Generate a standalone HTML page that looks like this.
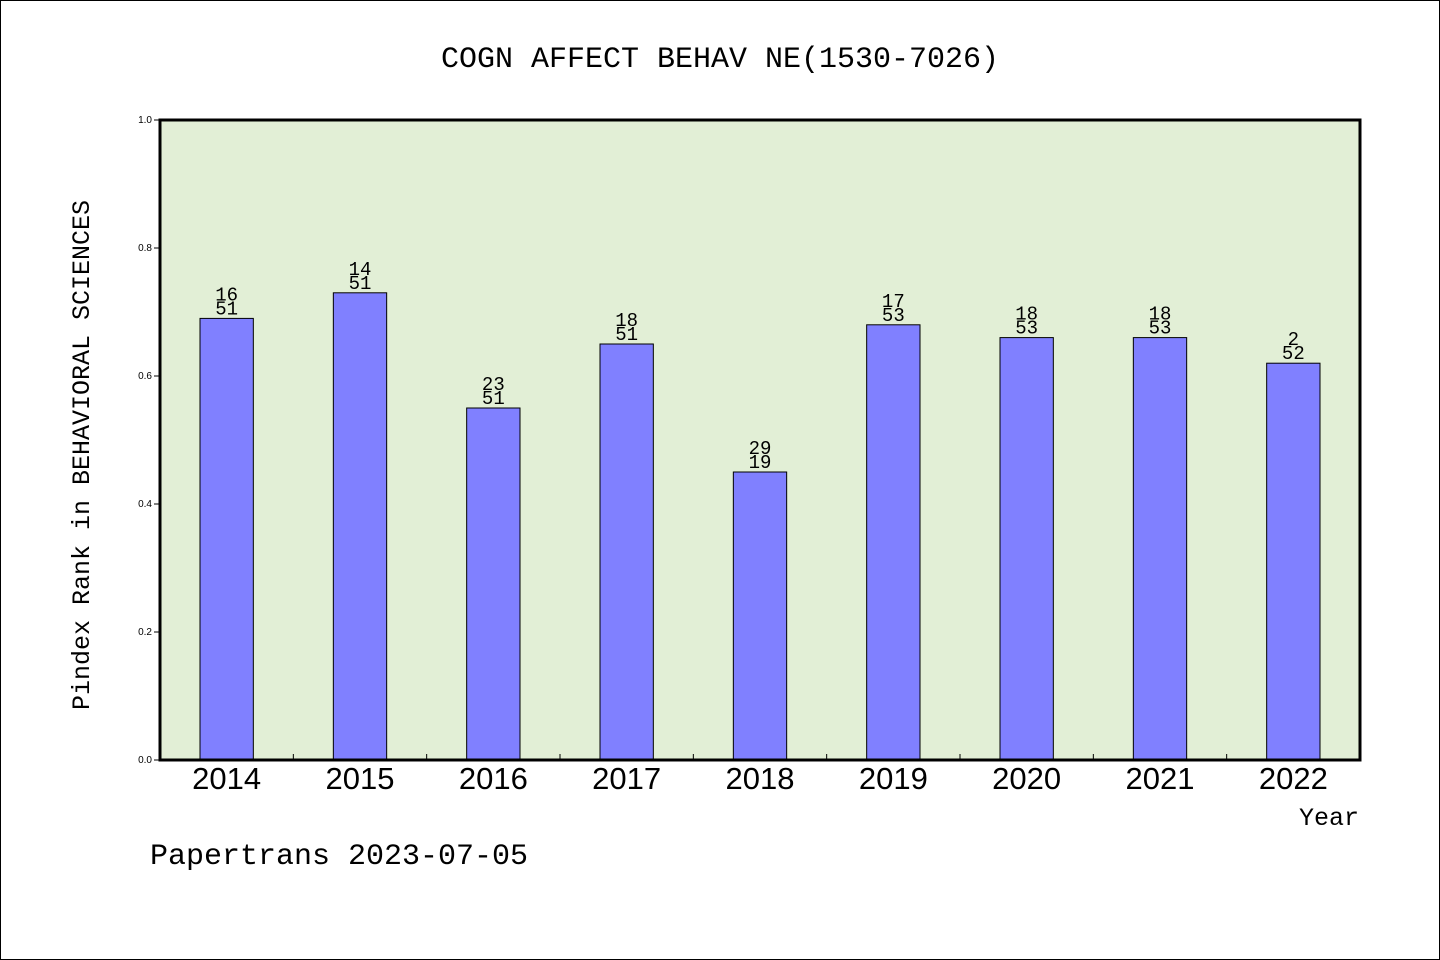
<!DOCTYPE html>
<html><head><meta charset="utf-8"><style>
html,body{margin:0;padding:0;background:#fff}
svg{display:block}
</style></head><body>
<svg id="chart" width="1440" height="960" xmlns="http://www.w3.org/2000/svg">
<rect x="0.5" y="0.5" width="1439" height="959" fill="#fff" stroke="#000" stroke-width="1"/>
<text x="720" y="67" text-anchor="middle" font-family="'WenQuanYi Zen Hei Mono','WenQuanYi Zen Hei','Liberation Mono',monospace" font-size="30">COGN AFFECT BEHAV NE(1530-7026)</text>
<rect x="160" y="120" width="1200" height="640" fill="#e2efd6"/>
<g id="bars"></g>
<rect x="160" y="120" width="1200" height="640" fill="none" stroke="#000" stroke-width="3"/>
<g id="axes"></g>
<text transform="translate(89,455) rotate(-90)" text-anchor="middle" font-family="'WenQuanYi Zen Hei Mono','WenQuanYi Zen Hei','Liberation Mono',monospace" font-size="25">Pindex Rank in BEHAVIORAL SCIENCES</text>
<text x="1359" y="825" text-anchor="end" font-family="'WenQuanYi Zen Hei Mono','WenQuanYi Zen Hei','Liberation Mono',monospace" font-size="25">Year</text>
<text x="150" y="864" font-family="'WenQuanYi Zen Hei Mono','WenQuanYi Zen Hei','Liberation Mono',monospace" font-size="30">Papertrans 2023-07-05</text>
</svg>
<script>
const categories = ["2014","2015","2016","2017","2018","2019","2020","2021","2022"];
const values = [0.69,0.73,0.55,0.65,0.45,0.68,0.66,0.66,0.62];
const ranks = ["16","14","23","18","29","17","18","18","2"];
const totals = ["51","51","51","51","19","53","53","53","52"];
const yTicks = [0,0.2,0.4,0.6,0.8,1.0];
const yTickLabels = ["0.0","0.2","0.4","0.6","0.8","1.0"];

const NS="http://www.w3.org/2000/svg";
const X0=160,W=1200,Y0=760,H=640;
const band=W/categories.length;
function xc(i){return X0+band*(i+0.5);}
function y(v){return Y0-v*H;}
function mk(tag,attrs,parent){const e=document.createElementNS(NS,tag);for(const k in attrs)e.setAttribute(k,attrs[k]);parent.appendChild(e);return e;}
const bars=document.getElementById('bars'), axes=document.getElementById('axes');
const mono="'WenQuanYi Zen Hei Mono','WenQuanYi Zen Hei','Liberation Mono',monospace";
values.forEach((v,i)=>{
  const bw=band*0.4;
  const r=mk('rect',{x:xc(i)-bw/2,y:y(v),width:bw,height:Y0-y(v),fill:'#8080ff',stroke:'#000','stroke-width':1},bars);
  
  
  const t1=mk('text',{x:xc(i),y:y(v)-18,'text-anchor':'middle','font-family':mono,'font-size':19},bars);
  t1.textContent=ranks[i];
  
  
  const t2=mk('text',{x:xc(i),y:y(v)-4,'text-anchor':'middle','font-family':mono,'font-size':19},bars);
  t2.textContent=totals[i];
  
  
  const xl=mk('text',{x:xc(i),y:789,'text-anchor':'middle','font-family':"'Liberation Sans',sans-serif",'font-size':31},axes);
  xl.textContent=categories[i];
  
  
  if(i>0){
    const tk=mk('line',{x1:X0+band*i,x2:X0+band*i,y1:Y0,y2:Y0-6,stroke:'#000','stroke-width':1},axes);
    
    
  }
});
yTicks.forEach((v,i)=>{
  const tk=mk('line',{x1:X0-6,x2:X0,y1:y(v),y2:y(v),stroke:'#000','stroke-width':1},axes);
  
  
  const tl=mk('text',{x:X0-8,y:y(v)+3,'text-anchor':'end','font-family':"'Liberation Sans',sans-serif",'font-size':10},axes);
  tl.textContent=yTickLabels[i];
  
  
});
</script>
</body></html>
